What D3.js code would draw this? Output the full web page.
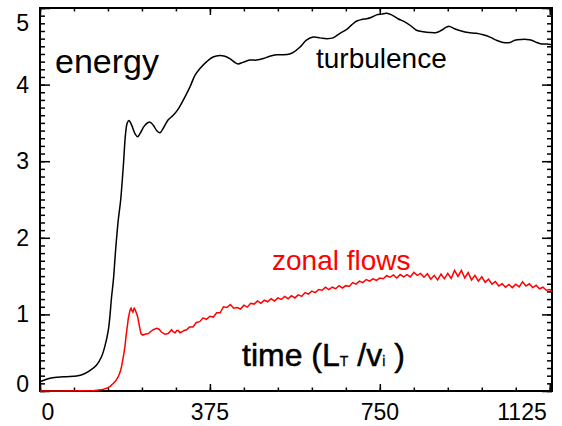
<!DOCTYPE html>
<html>
<head>
<meta charset="utf-8">
<script src="https://cdn.jsdelivr.net/npm/d3@7"></script>
<style>
body { margin: 0; background: #fff; }
svg { display: block; }
text { font-family: "Liberation Sans", Arial, sans-serif; }
</style>
</head>
<body>
<svg id="chart"></svg>
<script>
// tick values
let xTicks = [0, 375, 750, 1125]
let yTicks = [0, 1, 2, 3, 4, 5]

// energy of the turbulence, [time, energy]
let turbulence = [
    [0, 0.12], [22, 0.166], [40, 0.18], [59, 0.187], [81, 0.196], [95.5, 0.218], [110, 0.265],
    [125, 0.34], [136, 0.45], [143, 0.58], [151, 0.80], [158, 1.23], [162, 1.45], [167, 1.85],
    [172.7, 2.23], [178, 2.49], [183.8, 2.93], [189, 3.37], [192.6, 3.50], [196.3, 3.53],
    [202.3, 3.47], [209.6, 3.36], [215.5, 3.32], [220.6, 3.36], [231.6, 3.47], [242.7, 3.51],
    [250, 3.47], [257.5, 3.40], [264.7, 3.37], [272, 3.43], [283, 3.54], [294, 3.60], [305, 3.68],
    [320, 3.84], [331, 3.97], [342, 4.12], [353, 4.21], [368, 4.30], [382, 4.36], [397, 4.38],
    [408, 4.37], [419, 4.34], [430, 4.29], [437, 4.27], [448, 4.29], [463, 4.32], [478, 4.32],
    [493, 4.34], [507, 4.37], [522, 4.39], [537, 4.39], [551, 4.40], [559, 4.42], [574, 4.49],
    [588, 4.58], [603, 4.62], [618, 4.61], [633, 4.60], [647, 4.61], [662, 4.67], [677, 4.72],
    [688, 4.78], [699, 4.83], [710, 4.85], [721, 4.86], [732, 4.88], [743, 4.91], [754, 4.92],
    [765, 4.93], [776, 4.91], [790, 4.86], [805, 4.82], [820, 4.76], [831, 4.71], [846, 4.69],
    [860, 4.68], [875, 4.68], [886, 4.71], [897, 4.75], [904, 4.76], [915, 4.73], [930, 4.70],
    [945, 4.68], [963, 4.67], [978, 4.65], [993, 4.62], [1007, 4.58], [1022, 4.55], [1037, 4.55],
    [1048, 4.58], [1063, 4.59], [1074, 4.59], [1085, 4.58], [1096, 4.55], [1107, 4.53],
    [1118, 4.53], [1130, 4.52]
]

// energy of the zonal flows, [time, energy]
let zonalFlows = [
    [0, 0], [60, 0], [120, 0.005], [135, 0.015], [147, 0.035], [155, 0.06], [162, 0.10],
    [168, 0.14], [173, 0.19], [177, 0.25], [180, 0.32], [184, 0.45], [187.5, 0.58], [190, 0.72],
    [192.6, 0.84], [195, 0.95], [197, 1.01], [199, 1.06], [201, 1.08], [203, 1.05], [205, 1.03],
    [207, 1.07], [208, 1.08], [210, 1.06], [212, 1.03], [215.5, 0.97], [219, 0.86], [222.8, 0.75],
    [226.5, 0.73], [232, 0.74], [239, 0.75], [245, 0.78], [250, 0.80], [257.5, 0.82], [262, 0.81],
    [268, 0.77], [275.7, 0.74], [283, 0.75], [290.5, 0.80], [294, 0.77], [298, 0.76], [302, 0.79],
    [305, 0.79], [309, 0.76], [312.6, 0.77], [318, 0.79], [323.6, 0.80],
    [330, 0.835], [337.5, 0.835], [345, 0.895], [352.5, 0.905], [360, 0.955], [367.5, 0.935],
    [375, 0.975], [382.5, 0.965], [390, 1.02], [397.5, 1.02], [405, 1.10], [412.5, 1.09],
    [420, 1.13], [427.5, 1.08], [435, 1.09], [442.5, 1.07], [450, 1.12], [457.5, 1.095],
    [465, 1.145], [472.5, 1.135], [480, 1.175], [487.5, 1.145], [495, 1.185], [502.5, 1.165],
    [510, 1.205], [517.5, 1.175], [525, 1.215], [532.5, 1.195], [540, 1.235], [547.5, 1.205],
    [555, 1.245], [562.5, 1.215], [570, 1.255], [577.5, 1.235], [585, 1.285], [592.5, 1.265],
    [600, 1.305], [607.5, 1.285], [615, 1.325], [622.5, 1.315], [630, 1.355], [637.5, 1.325],
    [645, 1.355], [652.5, 1.335], [660, 1.375], [667.5, 1.345], [675, 1.375], [682.5, 1.365],
    [690, 1.415], [697.5, 1.395], [705, 1.435], [712.5, 1.415], [720, 1.455], [727.5, 1.435],
    [735, 1.465], [742.5, 1.445], [750, 1.475], [757.5, 1.465], [765, 1.505], [772.5, 1.485],
    [780, 1.515], [787.5, 1.475], [795, 1.52], [802.5, 1.49], [810, 1.52], [817.5, 1.49],
    [825, 1.55], [832.5, 1.51], [840, 1.535], [847.5, 1.485], [855, 1.53], [862.5, 1.46],
    [870, 1.51], [877.5, 1.45], [885, 1.525], [892.5, 1.465], [900, 1.535], [907.5, 1.47],
    [915, 1.575], [922.5, 1.495], [930, 1.575], [937.5, 1.475], [945, 1.545], [952.5, 1.45],
    [960, 1.51], [967.5, 1.435], [975, 1.49], [982.5, 1.42], [990, 1.46], [997.5, 1.395],
    [1005, 1.43], [1012.5, 1.37], [1020, 1.40], [1027.5, 1.355], [1035, 1.39], [1042.5, 1.35],
    [1050, 1.395], [1057.5, 1.36], [1065, 1.425], [1072.5, 1.37], [1080, 1.40], [1087.5, 1.35],
    [1095, 1.38], [1102.5, 1.335], [1110, 1.355], [1117.5, 1.315], [1125, 1.325], [1130, 1.30]
]

let width = 562
let height = 426
let padLeft = 40, padRight = 552, padTop = 8, padBottom = 391

let svg = d3.select('#chart').attr('width', width).attr('height', height)

let xScale = d3.scaleLinear().domain([0, 1130]).range([padLeft, padRight])
let yScale = d3.scaleLinear().domain([0, 5]).range([padBottom, padTop])

let xMinor = d3.range(0, 1130, 75)
let yMinor = d3.range(0, 50.5).map(d => d / 10)

function drawTicks(axis, tr) {
    let g = svg.append('g').attr('transform', tr).call(axis)
    g.select('.domain').remove()
    g.selectAll('line').attr('stroke', '#000').attr('stroke-width', 1.5)
}

function drawAxis(){
    drawTicks(d3.axisBottom(xScale).tickValues(xMinor).tickSize(-3.5).tickFormat(''), 'translate(0,' + padBottom + ')')
    drawTicks(d3.axisBottom(xScale).tickValues(xTicks).tickSize(-7).tickFormat(''), 'translate(0,' + padBottom + ')')
    drawTicks(d3.axisTop(xScale).tickValues(xMinor).tickSize(-3.5).tickFormat(''), 'translate(0,' + padTop + ')')
    drawTicks(d3.axisTop(xScale).tickValues(xTicks).tickSize(-7).tickFormat(''), 'translate(0,' + padTop + ')')
    drawTicks(d3.axisLeft(yScale).tickValues(yMinor).tickSize(-5).tickFormat(''), 'translate(' + padLeft + ',0)')
    drawTicks(d3.axisLeft(yScale).tickValues(yTicks).tickSize(-10).tickFormat(''), 'translate(' + padLeft + ',0)')
    drawTicks(d3.axisRight(yScale).tickValues(yMinor).tickSize(-5).tickFormat(''), 'translate(' + padRight + ',0)')
    drawTicks(d3.axisRight(yScale).tickValues(yTicks).tickSize(-10).tickFormat(''), 'translate(' + padRight + ',0)')

    svg.append('rect')
        .attr('x', padLeft).attr('y', padTop)
        .attr('width', padRight - padLeft).attr('height', padBottom - padTop)
        .attr('fill', 'none').attr('stroke', '#000').attr('stroke-width', 2)

    // labels are kept inside the frame at the ends, like the original
    svg.append('g').selectAll('text').data(xTicks).enter().append('text')
        .attr('x', d => Math.min(Math.max(xScale(d), 48), 522))
        .attr('y', 420)
        .attr('text-anchor', 'middle')
        .attr('font-size', 23)
        .text(d => d)
    svg.append('g').selectAll('text').data(yTicks).enter().append('text')
        .attr('x', 29)
        .attr('y', d => Math.min(Math.max(yScale(d), 22.5), 384))
        .attr('dy', '0.35em')
        .attr('text-anchor', 'end')
        .attr('font-size', 23)
        .text(d => d)
}

function drawLines(){
    let line = d3.line().x(d => xScale(d[0])).y(d => yScale(d[1]))
    svg.append('path').datum(turbulence)
        .attr('d', line.curve(d3.curveCatmullRom))
        .attr('fill', 'none').attr('stroke', '#000').attr('stroke-width', 1.5)
    svg.append('path').datum(zonalFlows)
        .attr('d', line.curve(d3.curveLinear))
        .attr('fill', 'none').attr('stroke', '#ff0000').attr('stroke-width', 1.5)
}

function drawLabels(){
    svg.append('text').attr('x', 55).attr('y', 73).attr('font-size', 34).text('energy')
    svg.append('text').attr('x', 316).attr('y', 68).attr('font-size', 28).text('turbulence')
    svg.append('text').attr('x', 272).attr('y', 270).attr('font-size', 28).attr('fill', '#ff0000').text('zonal flows')
    let t = svg.append('text').attr('x', 242).attr('y', 366).attr('font-size', 32)
        .attr('stroke', '#000').attr('stroke-width', 0.5)
    t.append('tspan').text('time (L')
    t.append('tspan').attr('font-size', 14).attr('stroke-width', 0.3).text('T')
    t.append('tspan').text(' /v')
    t.append('tspan').attr('font-size', 14).attr('stroke-width', 0.3).text('i')
    t.append('tspan').text(' )')
}

drawAxis()
drawLines()
drawLabels()
</script>
</body>
</html>
